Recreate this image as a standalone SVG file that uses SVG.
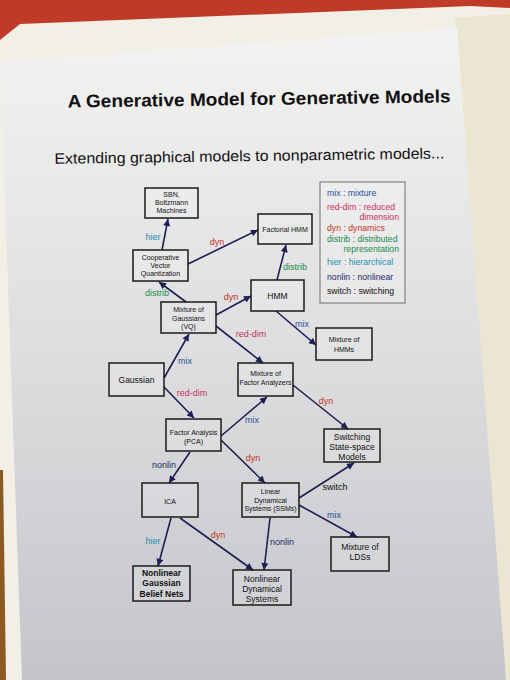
<svg xmlns="http://www.w3.org/2000/svg" width="510" height="680" viewBox="0 0 510 680">
<defs>
<linearGradient id="pg" x1="0" y1="0" x2="0" y2="1">
<stop offset="0" stop-color="#f3f3f1"/>
<stop offset="0.45" stop-color="#e0e0e2"/>
<stop offset="1" stop-color="#c4c5c9"/>
</linearGradient>
<marker id="ah" viewBox="0 0 10 10" refX="10" refY="5" markerWidth="9" markerHeight="7" markerUnits="userSpaceOnUse" orient="auto">
<path d="M0,0 L10,5 L0,10 z" fill="#1c1f55"/>
</marker>
<style>
.box{fill:#ffffff;fill-opacity:0.15;stroke:#1a1a1a;stroke-width:1.5}
.nt{font-family:"Liberation Sans",Arial,sans-serif;font-size:7px;fill:#111;text-anchor:middle}
.big{font-size:8.5px}
.e{stroke:#1c1f55;stroke-width:1.6;fill:none;marker-end:url(#ah)}
.lb{font-family:"Liberation Sans",Arial,sans-serif;font-size:9px;text-anchor:middle}
.lg{font-family:"Liberation Sans",Arial,sans-serif;font-size:8.7px}
.mix{fill:#2a4f9c}.rd{fill:#c8305c}.dyn{fill:#c23422}.dis{fill:#1a8a4c}.hier{fill:#1e8fae}.nl{fill:#262a6a}.sw{fill:#111}
</style>
</defs>
<!-- background photo context -->
<rect x="0" y="0" width="510" height="680" fill="#c03a28"/>
<polygon points="20,24 470,6 510,8 510,680 0,680 0,40" fill="#f1efe6"/>
<polygon points="455,18 510,14 510,680 470,680" fill="#ebe6d2"/>
<polygon points="0,470 3,470 6,680 0,680" fill="#8a5a22"/>
<polygon points="0,62 457,28 506,680 22,680" fill="url(#pg)"/>
<g transform="rotate(-0.8 255 130)">
<text x="68" y="105" font-family="Liberation Sans,Arial,sans-serif" font-weight="bold" font-size="18" textLength="383" lengthAdjust="spacingAndGlyphs" fill="#111">A Generative Model for Generative Models</text>
<text x="54" y="161" font-family="Liberation Sans,Arial,sans-serif" font-size="15" textLength="390" lengthAdjust="spacingAndGlyphs" fill="#111">Extending graphical models to nonparametric models...</text>
</g>
<!-- connectors -->
<g id="edges">
<line class="e" x1="162" y1="250" x2="168" y2="219"/>
<line class="e" x1="188" y1="264" x2="258" y2="230"/>
<line class="e" x1="186" y1="302" x2="159" y2="282"/>
<line class="e" x1="216" y1="315" x2="251" y2="296"/>
<line class="e" x1="277" y1="280" x2="286" y2="245"/>
<line class="e" x1="276" y1="311" x2="316" y2="345"/>
<line class="e" x1="216" y1="326" x2="263" y2="363"/>
<line class="e" x1="164" y1="378" x2="189" y2="334"/>
<line class="e" x1="164" y1="387" x2="194" y2="418"/>
<line class="e" x1="221" y1="436" x2="267" y2="397"/>
<line class="e" x1="190" y1="452" x2="169" y2="483"/>
<line class="e" x1="221" y1="440" x2="265" y2="483"/>
<line class="e" x1="293" y1="385" x2="348" y2="429"/>
<line class="e" x1="299" y1="498" x2="354" y2="463"/>
<line class="e" x1="299" y1="505" x2="357" y2="537"/>
<line class="e" x1="171" y1="518" x2="158" y2="566"/>
<line class="e" x1="180" y1="518" x2="253" y2="570"/>
<line class="e" x1="270" y1="518" x2="264" y2="570"/>
<text class="lb hier" x="153" y="240">hier</text>
<text class="lb dyn" x="217" y="245">dyn</text>
<text class="lb dis" x="157" y="296">distrib</text>
<text class="lb dyn" x="231" y="300">dyn</text>
<text class="lb dis" x="295" y="270">distrib</text>
<text class="lb mix" x="302" y="327">mix</text>
<text class="lb rd" x="251" y="337">red-dim</text>
<text class="lb mix" x="185" y="364">mix</text>
<text class="lb rd" x="192" y="396">red-dim</text>
<text class="lb mix" x="252" y="423">mix</text>
<text class="lb nl" x="164" y="468">nonlin</text>
<text class="lb dyn" x="253" y="461">dyn</text>
<text class="lb dyn" x="326" y="404">dyn</text>
<text class="lb sw" x="335" y="490">switch</text>
<text class="lb mix" x="334" y="518">mix</text>
<text class="lb hier" x="153" y="544">hier</text>
<text class="lb dyn" x="218" y="538">dyn</text>
<text class="lb nl" x="282" y="545">nonlin</text>
</g>
<!-- nodes -->
<g id="sbn"><rect class="box" x="145" y="188" width="53" height="30"/>
<text class="nt" font-size="6.5" x="171.5" y="197">SBN,</text><text class="nt" font-size="6.5" x="171.5" y="205">Boltzmann</text><text class="nt" font-size="6.5" x="171.5" y="213">Machines</text></g>
<g id="fhmm"><rect class="box" x="258" y="214" width="54" height="30"/>
<text class="nt" font-size="6.5" x="285" y="231.5">Factorial HMM</text></g>
<g id="cvq"><rect class="box" x="133" y="250" width="55" height="31"/>
<text class="nt" font-size="6.5" x="160.5" y="260">Cooperative</text><text class="nt" font-size="6.5" x="160.5" y="268">Vector</text><text class="nt" font-size="6.5" x="160.5" y="276">Quantization</text></g>
<g id="hmm"><rect class="box" x="251" y="280" width="53" height="31"/>
<text class="nt big" x="277.5" y="299">HMM</text></g>
<g id="mog"><rect class="box" x="161" y="302" width="55" height="31"/>
<text class="nt" font-size="6.5" x="188.5" y="312">Mixture of</text><text class="nt" font-size="6.5" x="188.5" y="320.5">Gaussians</text><text class="nt" font-size="6.5" x="188.5" y="329">(VQ)</text></g>
<g id="mohmm"><rect class="box" x="316" y="328" width="56" height="32"/>
<text class="nt" font-size="7.5" x="344" y="342">Mixture of</text><text class="nt" font-size="7.5" x="344" y="352">HMMs</text></g>
<g id="gauss"><rect class="box" x="109" y="363" width="55" height="33"/>
<text class="nt big" x="136.5" y="382.5">Gaussian</text></g>
<g id="mfa"><rect class="box" x="238" y="363" width="55" height="33"/>
<text class="nt" font-size="6.5" x="265.5" y="376">Mixture of</text><text class="nt" font-size="6.5" x="265.5" y="385">Factor Analyzers</text></g>
<g id="fa"><rect class="box" x="166" y="419" width="55" height="32"/>
<text class="nt" font-size="7.5" x="193.5" y="434.5">Factor Analysis</text><text class="nt" font-size="7.5" x="193.5" y="443.5">(PCA)</text></g>
<g id="sssm"><rect class="box" x="324" y="429" width="56" height="33"/>
<text class="nt big" x="352" y="440">Switching</text><text class="nt big" x="352" y="450">State-space</text><text class="nt big" x="352" y="460">Models</text></g>
<g id="ica"><rect class="box" x="142" y="483" width="56" height="34"/>
<text class="nt" font-size="10" x="170" y="503.5">ICA</text></g>
<g id="lds"><rect class="box" x="242" y="483" width="57" height="34"/>
<text class="nt" font-size="6.5" x="270.5" y="494">Linear</text><text class="nt" font-size="6.5" x="270.5" y="502.5">Dynamical</text><text class="nt" font-size="6.5" x="270.5" y="511">Systems (SSMs)</text></g>
<g id="molds"><rect class="box" x="331" y="537" width="58" height="34"/>
<text class="nt big" x="360" y="550">Mixture of</text><text class="nt big" x="360" y="560">LDSs</text></g>
<g id="ngbn"><rect class="box" x="133" y="566" width="57" height="35"/>
<text class="nt big" font-weight="bold" x="161.5" y="576">Nonlinear</text><text class="nt big" font-weight="bold" x="161.5" y="586">Gaussian</text><text class="nt big" font-weight="bold" x="161.5" y="596.5">Belief Nets</text></g>
<g id="nds"><rect class="box" x="233" y="570" width="58" height="35"/>
<text class="nt big" x="262" y="582">Nonlinear</text><text class="nt big" x="262" y="592">Dynamical</text><text class="nt big" x="262" y="602">Systems</text></g>
<!-- legend -->
<g id="legend"><rect x="320" y="182" width="85" height="121" fill="#ffffff" fill-opacity="0.2" stroke="#6e6e70" stroke-width="1"/>
<text class="lg mix" x="327" y="196">mix : mixture</text>
<text class="lg rd" x="327" y="209.5">red-dim : reduced</text>
<text class="lg rd" x="399" y="220" text-anchor="end">dimension</text>
<text class="lg dyn" x="327" y="231">dyn : dynamics</text>
<text class="lg dis" x="327" y="241.5">distrib : distributed</text>
<text class="lg dis" x="399" y="252" text-anchor="end">representation</text>
<text class="lg hier" x="327" y="265">hier : hierarchical</text>
<text class="lg nl" x="327" y="280">nonlin : nonlinear</text>
<text class="lg sw" x="327" y="294">switch : switching</text>
</g>
</svg>
